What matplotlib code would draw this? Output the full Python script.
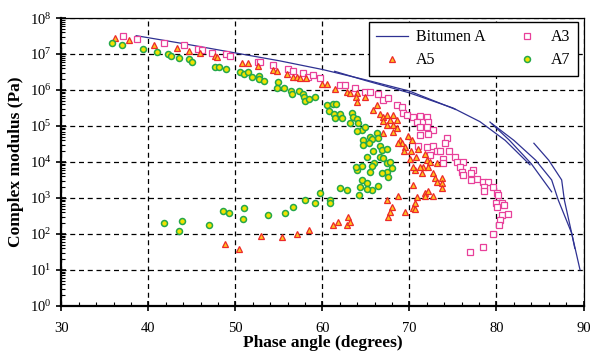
import matplotlib
matplotlib.use('Agg')
import matplotlib.pyplot as plt
import numpy as np
from matplotlib.ticker import MultipleLocator, LogLocator, NullFormatter

plt.rcParams['font.family'] = ['Liberation Serif', 'DejaVu Serif']
plt.rcParams['mathtext.fontset'] = 'stix'

# Bitumen A master-curve segments: phase angle (deg) and log10 of modulus (Pa)
bit_phase = [
    [38.6, 44, 50, 55.1, 60, 65, 70, 75.3],
    [61.4, 65, 70, 75, 78.1, 81, 83.85],
    [79.25, 81.5, 84, 86.34],
    [79.5, 82, 84.5, 86.34, 87.1, 88.64, 89.0],
    [84.3, 86, 87.49, 87.8, 88.64, 89.6],
]
bit_logg = [
    [7.51, 7.29, 7.03, 6.81, 6.57, 6.28, 5.97, 5.46],
    [6.52, 6.26, 5.92, 5.5, 5.12, 4.6, 3.92],
    [5.11, 4.6, 3.95, 3.17],
    [5.06, 4.6, 4.05, 3.5, 2.94, 2.02, 1.6],
    [4.52, 4.05, 3.5, 2.94, 2.02, 1.0],
]

a3_phase = [37.10, 38.64, 41.78, 44.08, 45.72, 46.11, 47.26, 48.87, 49.37, 52.62,
            52.82, 54.34, 56.07, 56.64, 57.79, 58.37, 58.94, 59.71, 62.01, 62.59,
            63.74, 64.89, 65.46, 66.41, 66.99, 67.56, 68.53, 69.10, 69.29, 69.68,
            70.44, 71.21, 71.98, 70.83, 72.16, 71.21, 71.98, 72.74, 71.21, 72.16,
            74.28, 74.08, 71.02, 71.98, 72.74, 73.13, 73.51, 74.58, 72.36, 73.89,
            73.89, 75.23, 75.43, 76.18, 75.80, 76.00, 76.18, 77.33, 77.03, 77.72,
            77.03, 78.48, 79.06, 78.56, 78.56, 79.63, 80.09, 80.21, 79.94, 80.60,
            80.86, 80.02, 80.60, 81.36, 80.40, 80.32, 79.63, 76.95, 78.41]
a3_logg = [7.50, 7.43, 7.31, 7.24, 7.15, 7.11, 7.04, 7.00, 6.94, 6.78,
           6.78, 6.70, 6.59, 6.53, 6.46, 6.37, 6.41, 6.33, 6.15, 6.14,
           6.05, 5.95, 5.94, 5.88, 5.72, 5.77, 5.58, 5.52, 5.37, 5.31,
           5.26, 5.28, 5.26, 5.12, 5.12, 4.98, 4.98, 4.89, 4.75, 4.78,
           4.66, 4.54, 4.44, 4.41, 4.43, 4.31, 4.31, 4.31, 4.19, 4.07,
           3.98, 4.15, 4.01, 4.01, 3.87, 3.73, 3.64, 3.78, 3.69, 3.52,
           3.50, 3.43, 3.43, 3.31, 3.20, 3.30, 3.15, 3.08, 2.87, 2.87,
           2.81, 2.76, 2.53, 2.56, 2.39, 2.25, 2.00, 1.51, 1.63]

a5_phase = [36.15, 37.76, 40.67, 43.24, 44.69, 45.92, 47.64, 47.84, 50.71, 51.47,
            52.62, 54.34, 54.74, 55.89, 56.64, 57.03, 57.41, 58.10, 59.91, 60.48,
            61.44, 62.78, 63.16, 63.93, 63.85, 63.93, 64.89, 66.23, 65.84, 66.61,
            66.99, 67.38, 68.14, 67.76, 66.99, 68.53, 68.14, 67.38, 68.53, 66.99,
            68.14, 69.86, 70.25, 68.91, 69.10, 68.72, 69.48, 69.37, 70.14, 71.02,
            70.75, 70.06, 71.78, 71.98, 72.36, 73.13, 71.59, 72.16, 71.21, 71.40,
            70.63, 70.44, 72.74, 72.93, 73.70, 73.13, 73.70, 73.70, 70.44, 71.78,
            72.16, 71.78, 72.74, 70.83, 70.63, 70.44, 68.72, 67.40, 67.95, 67.76,
            69.48, 67.56, 70.63, 62.97, 62.78, 61.82, 61.24, 63.16, 58.40, 57.05,
            55.31, 52.89, 48.79, 50.44]
a5_logg = [7.45, 7.39, 7.25, 7.18, 7.09, 7.02, 6.94, 6.93, 6.76, 6.76,
           6.67, 6.56, 6.52, 6.44, 6.37, 6.37, 6.33, 6.33, 6.17, 6.17,
           6.04, 5.95, 5.91, 5.91, 5.80, 5.68, 5.81, 5.58, 5.44, 5.33,
           5.26, 5.31, 5.31, 5.17, 5.15, 5.17, 5.03, 5.03, 4.94, 4.81,
           4.84, 4.72, 4.61, 4.61, 4.52, 4.52, 4.41, 4.31, 4.31, 4.35,
           4.15, 4.07, 4.22, 4.06, 4.01, 3.98, 3.87, 3.85, 3.85, 3.70,
           3.78, 3.85, 3.69, 3.55, 3.55, 3.45, 3.41, 3.27, 3.36, 3.13,
           3.18, 3.06, 3.04, 3.02, 2.87, 2.71, 3.06, 2.95, 2.76, 2.62,
           2.62, 2.48, 2.69, 2.46, 2.26, 2.34, 2.25, 2.32, 2.11, 1.99,
           1.92, 1.94, 1.72, 1.59]

a7_phase = [35.84, 36.99, 39.40, 41.01, 42.28, 42.55, 43.51, 44.69, 45.03, 47.64,
            48.14, 48.87, 50.52, 50.98, 51.47, 51.86, 52.74, 52.74, 53.28, 54.89,
            54.80, 55.57, 56.34, 56.46, 57.30, 57.72, 57.91, 57.99, 58.48, 59.14,
            60.48, 60.78, 61.24, 61.55, 61.32, 61.47, 62.01, 62.20, 63.36, 63.54,
            63.93, 64.11, 63.16, 64.51, 63.93, 64.89, 66.23, 65.46, 64.69, 65.65,
            66.41, 64.69, 65.38, 65.77, 65.08, 66.61, 66.80, 67.38, 66.61, 66.99,
            67.38, 67.76, 65.92, 65.65, 67.95, 67.38, 66.80, 67.56, 64.51, 63.93,
            63.85, 65.46, 64.51, 65.15, 64.31, 66.41, 65.65, 65.08, 64.20, 62.78,
            62.01, 60.86, 60.86, 59.71, 59.14, 57.99, 56.57, 55.69, 53.77, 50.94,
            50.90, 49.25, 48.60, 46.99, 43.85, 43.47, 41.82]
a7_logg = [7.30, 7.24, 7.13, 7.06, 7.00, 6.94, 6.88, 6.85, 6.79, 6.65,
           6.65, 6.58, 6.49, 6.44, 6.50, 6.37, 6.40, 6.31, 6.24, 6.23,
           6.06, 6.06, 5.98, 5.89, 5.98, 5.89, 5.81, 5.70, 5.74, 5.80,
           5.58, 5.43, 5.60, 5.60, 5.33, 5.21, 5.33, 5.21, 5.35, 5.26,
           5.19, 5.07, 5.09, 4.89, 4.87, 4.98, 4.81, 4.70, 4.61, 4.63,
           4.66, 4.47, 4.52, 4.31, 4.15, 4.44, 4.33, 4.35, 4.15, 4.10,
           3.96, 4.01, 3.96, 3.89, 3.82, 3.73, 3.69, 3.59, 3.89, 3.78,
           3.85, 3.73, 3.50, 3.41, 3.31, 3.33, 3.22, 3.24, 3.08, 3.22,
           3.27, 2.94, 2.85, 3.15, 2.85, 2.94, 2.76, 2.59, 2.52, 2.71,
           2.41, 2.57, 2.64, 2.25, 2.36, 2.08, 2.31]

fig = plt.figure(figsize=(5.9, 3.54), dpi=100)
ax = fig.add_axes([0.104, 0.136, 0.885, 0.813])

line_col = '#2e3192'
for i, (ph, lg) in enumerate(zip(bit_phase, bit_logg)):
    ax.plot(ph, 10 ** np.array(lg), color=line_col, lw=0.9,
            label='Bitumen A' if i == 0 else None, zorder=3)

sq, = ax.plot(a3_phase, 10 ** np.array(a3_logg), ls='none', marker='s', ms=4.3,
              mfc='white', mec='#e8409a', mew=0.9, label='A3', zorder=4)
tri, = ax.plot(a5_phase, 10 ** np.array(a5_logg), ls='none', marker='^', ms=4.8,
               mfc='#ffc21f', mec='#ec2a2a', mew=0.9, label='A5', zorder=5)
circ, = ax.plot(a7_phase, 10 ** np.array(a7_logg), ls='none', marker='o', ms=4.3,
                mfc='#f2e200', mec='#25a84a', mew=1.1, label='A7', zorder=5)

ax.set_xlim(30, 90)
ax.set_yscale('log')
ax.set_ylim(1, 1e8)

ax.xaxis.set_major_locator(MultipleLocator(10))
ax.xaxis.set_minor_locator(MultipleLocator(2))
ax.yaxis.set_major_locator(LogLocator(base=10, numticks=20))
ax.yaxis.set_minor_locator(LogLocator(base=10, subs=np.arange(2, 10), numticks=20))
ax.yaxis.set_minor_formatter(NullFormatter())

ax.tick_params(which='major', direction='inout', length=7, width=1.2, labelsize=10.5,
               top=False, right=False)
ax.tick_params(which='minor', direction='in', length=3, width=0.8, top=False, right=False)
ax.tick_params(axis='x', pad=8)

for s in ['left', 'bottom']:
    ax.spines[s].set_linewidth(1.6)
for s in ['top', 'right']:
    ax.spines[s].set_linewidth(0.9)

ax.grid(True, which='major', color='black', ls=(0, (4, 3)), lw=0.9)

ax.set_xlabel('Phase angle (degrees)', fontsize=12.5, fontweight='bold', labelpad=0)
ax.set_ylabel('Complex modulus (Pa)', fontsize=12.5, fontweight='bold', labelpad=4)

handles = [ax.lines[0], tri, sq, circ]
labels = ['Bitumen A', 'A5', 'A3', 'A7']
leg = ax.legend(handles, labels, ncol=2, loc='upper right', bbox_to_anchor=(0.989, 0.986),
                borderaxespad=0, fancybox=False, framealpha=1, edgecolor='black',
                fontsize=11.5, numpoints=1, handlelength=2.0, columnspacing=1.6,
                handletextpad=0.5, borderpad=0.45, labelspacing=0.45)
leg.get_frame().set_linewidth(1.0)

fig.savefig('out.png', dpi=100)
